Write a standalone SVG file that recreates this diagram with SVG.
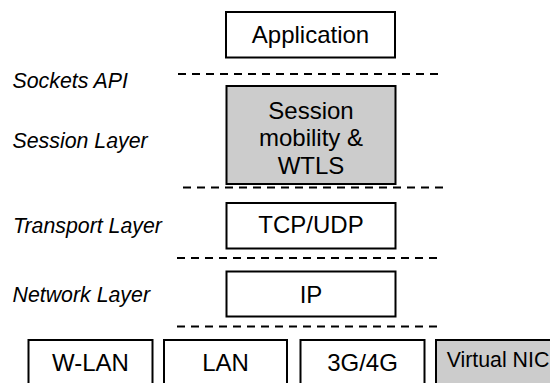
<svg xmlns="http://www.w3.org/2000/svg" width="550" height="383" viewBox="0 0 550 383">
  <style>
    .box { fill: #ffffff; stroke: #000000; stroke-width: 2; }
    .shaded { fill: #cccccc; stroke: #000000; stroke-width: 2; }
    .txt { font-family: "Liberation Sans", Arial, sans-serif; font-size: 24px; fill: #000000; text-anchor: middle; }
    .small { font-size: 21.33px; }
    .label { font-family: "Liberation Sans", Arial, sans-serif; font-size: 21.33px; font-style: italic; fill: #000000; }
    .sep { stroke: #000000; stroke-width: 2; stroke-dasharray: 8 6; fill: none; }
  </style>
  <rect width="550" height="383" fill="#ffffff"/>

  <!-- layer labels -->
  <g id="labels">
    <text class="label" x="12.5" y="87.5">Sockets API</text>
    <text class="label" x="12.5" y="147.5">Session Layer</text>
    <text class="label" x="13" y="233">Transport Layer</text>
    <text class="label" x="12.5" y="301.5">Network Layer</text>
  </g>

  <!-- layer boundaries -->
  <g id="connectors">
    <line class="sep" x1="178" y1="74" x2="441" y2="74"/>
    <line class="sep" x1="183" y1="187.5" x2="446" y2="187.5"/>
    <line class="sep" x1="177" y1="258" x2="440" y2="258"/>
    <line class="sep" x1="177" y1="326.5" x2="440" y2="326.5"/>
  </g>

  <g id="application">
    <rect class="box" x="226" y="12" width="169" height="45.5"/>
    <text class="txt" x="310.5" y="42.5">Application</text>
  </g>

  <g id="session">
    <rect class="shaded" x="226.5" y="86" width="169" height="98"/>
    <text class="txt" x="311" y="118.5">Session</text>
    <text class="txt" x="311" y="146">mobility &amp;</text>
    <text class="txt" x="311" y="173.5">WTLS</text>
  </g>

  <g id="tcp-udp">
    <rect class="box" x="226.5" y="203" width="169" height="45.5"/>
    <text class="txt" x="311" y="232.5">TCP/UDP</text>
  </g>

  <g id="ip">
    <rect class="box" x="226.5" y="271.5" width="169" height="45"/>
    <text class="txt" x="311" y="303">IP</text>
  </g>

  <g id="wlan">
    <rect class="box" x="28.5" y="340" width="124" height="52"/>
    <text class="txt" x="90.5" y="371">W-LAN</text>
  </g>

  <g id="lan">
    <rect class="box" x="164" y="340" width="123" height="52"/>
    <text class="txt" x="225.5" y="371">LAN</text>
  </g>

  <g id="cellular">
    <rect class="box" x="300.5" y="340" width="124" height="52"/>
    <text class="txt" x="362.5" y="371">3G/4G</text>
  </g>

  <g id="virtual-nic">
    <rect class="shaded" x="436" y="340" width="124" height="52"/>
    <text class="txt small" x="498" y="367">Virtual NIC</text>
  </g>
</svg>
